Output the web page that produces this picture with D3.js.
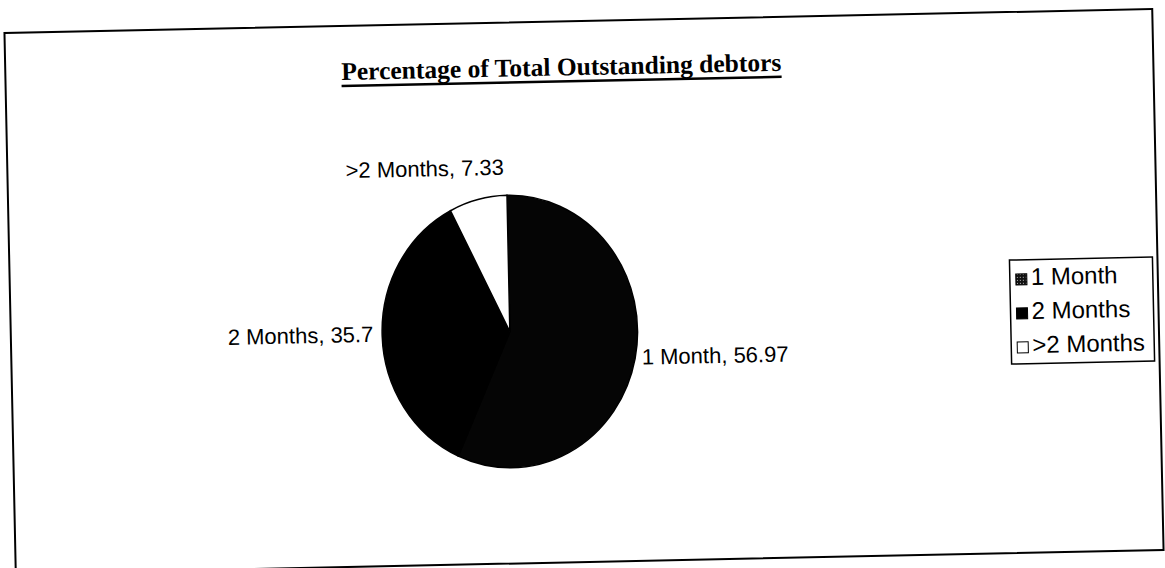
<!DOCTYPE html>
<html>
<head>
<meta charset="utf-8">
<script src="https://cdn.jsdelivr.net/npm/d3@7"></script>
<style>
  html, body { margin: 0; padding: 0; background: #fff; }
</style>
</head>
<body>
<svg id="chart" width="1165" height="568"></svg>
<script>
const categories = ["1 Month", "2 Months", ">2 Months"];
const shares = [56.97, 35.7, 7.33];
const shareLabels = ["56.97", "35.7", "7.33"];
const title = "Percentage of Total Outstanding debtors";

const svg = d3.select("#chart"),
      width = +svg.attr("width"),
      height = +svg.attr("height");

svg.append("rect").attr("width", width).attr("height", height).attr("fill", "#fff");

// dotted fill for the "1 Month" legend key
const defs = svg.append("defs");
const pat = defs.append("pattern")
  .attr("id", "dots")
  .attr("width", 3).attr("height", 3)
  .attr("patternUnits", "userSpaceOnUse");
pat.append("rect").attr("width", 3).attr("height", 3).attr("fill", "#111");
pat.append("rect").attr("x", 1).attr("y", 1).attr("width", 1).attr("height", 1).attr("fill", "#bbb");

// scanned page sits a little crooked
const g = svg.append("g").attr("transform", "rotate(-1.2,584,291)");

//frame
g.append("rect")
  .attr("x", 10).attr("y", 21)
  .attr("width", 1148).attr("height", 541)
  .attr("fill", "none")
  .attr("stroke", "#000")
  .attr("stroke-width", 2);

//title
const tx = 566;
const t = g.append("text")
  .attr("x", tx).attr("y", 75)
  .attr("text-anchor", "middle")
  .attr("font-family", "'Liberation Serif', 'Times New Roman', serif")
  .attr("font-weight", "bold")
  .attr("font-size", 25.5)
  .text(title);
const tw = t.node().getComputedTextLength();
g.append("line")
  .attr("x1", tx - tw / 2).attr("x2", tx + tw / 2)
  .attr("y1", 81).attr("y2", 81)
  .attr("stroke", "#000").attr("stroke-width", 2.5);

//pie
const color = d3.scaleOrdinal().domain(categories).range(["#050505", "#000", "#fff"]);
const pie = d3.pie().sort(null).value(d => d.value);
const arcs = pie(categories.map((c, i) => ({ name: c, value: shares[i], label: shareLabels[i] })));
const r = 131, sx = 0.975, sy = 1.04;
const cx = 509, cy = 330;
const arc = d3.arc().innerRadius(0).outerRadius(r);

const pg = g.append("g").attr("transform", `translate(${cx},${cy}) scale(${sx},${sy})`);
pg.selectAll("path")
  .data(arcs)
  .join("path")
  .attr("d", arc)
  .attr("fill", d => color(d.data.name))
  .attr("stroke", "#000")
  .attr("stroke-width", 1.5)
  .attr("vector-effect", "non-scaling-stroke");

//labels just outside the slices
const labelArc = d3.arc().innerRadius(r + 6).outerRadius(r + 6);
const labelFont = "'Liberation Sans', Arial, sans-serif";
const nudge = { "1 Month": [1, -1], "2 Months": [-3, 0], ">2 Months": [28, -24] };
g.append("g")
  .attr("transform", `translate(${cx},${cy})`)
  .selectAll("text")
  .data(arcs)
  .join("text")
  .attr("font-family", labelFont)
  .attr("font-size", 22)
  .attr("dominant-baseline", "middle")
  .attr("text-anchor", d => (d.startAngle + d.endAngle) / 2 < Math.PI ? "start" : "end")
  .attr("transform", d => {
    const [x, y] = labelArc.centroid(d);
    const [nx, ny] = nudge[d.data.name];
    return `translate(${x * sx + nx},${y * sy + ny})`;
  })
  .text(d => `${d.data.name}, ${d.data.label}`);

//legend
const lg = g.append("g").attr("transform", "translate(1010,269)");
lg.append("rect")
  .attr("x", 0).attr("y", 0)
  .attr("width", 143).attr("height", 104)
  .attr("fill", "#fff").attr("stroke", "#000").attr("stroke-width", 1.5);
const item = lg.selectAll("g.item")
  .data(categories)
  .join("g")
  .attr("class", "item")
  .attr("transform", (d, i) => `translate(6,${19 + i * 34})`);
item.append("rect")
  .attr("x", 0).attr("y", -5)
  .attr("width", 11).attr("height", 11)
  .attr("fill", d => d === "1 Month" ? "url(#dots)" : color(d))
  .attr("stroke", "#000").attr("stroke-width", 1);
item.append("text")
  .attr("x", 15)
  .attr("dominant-baseline", "middle")
  .attr("font-family", labelFont)
  .attr("font-size", 24)
  .text(d => d);
</script>
</body>
</html>
